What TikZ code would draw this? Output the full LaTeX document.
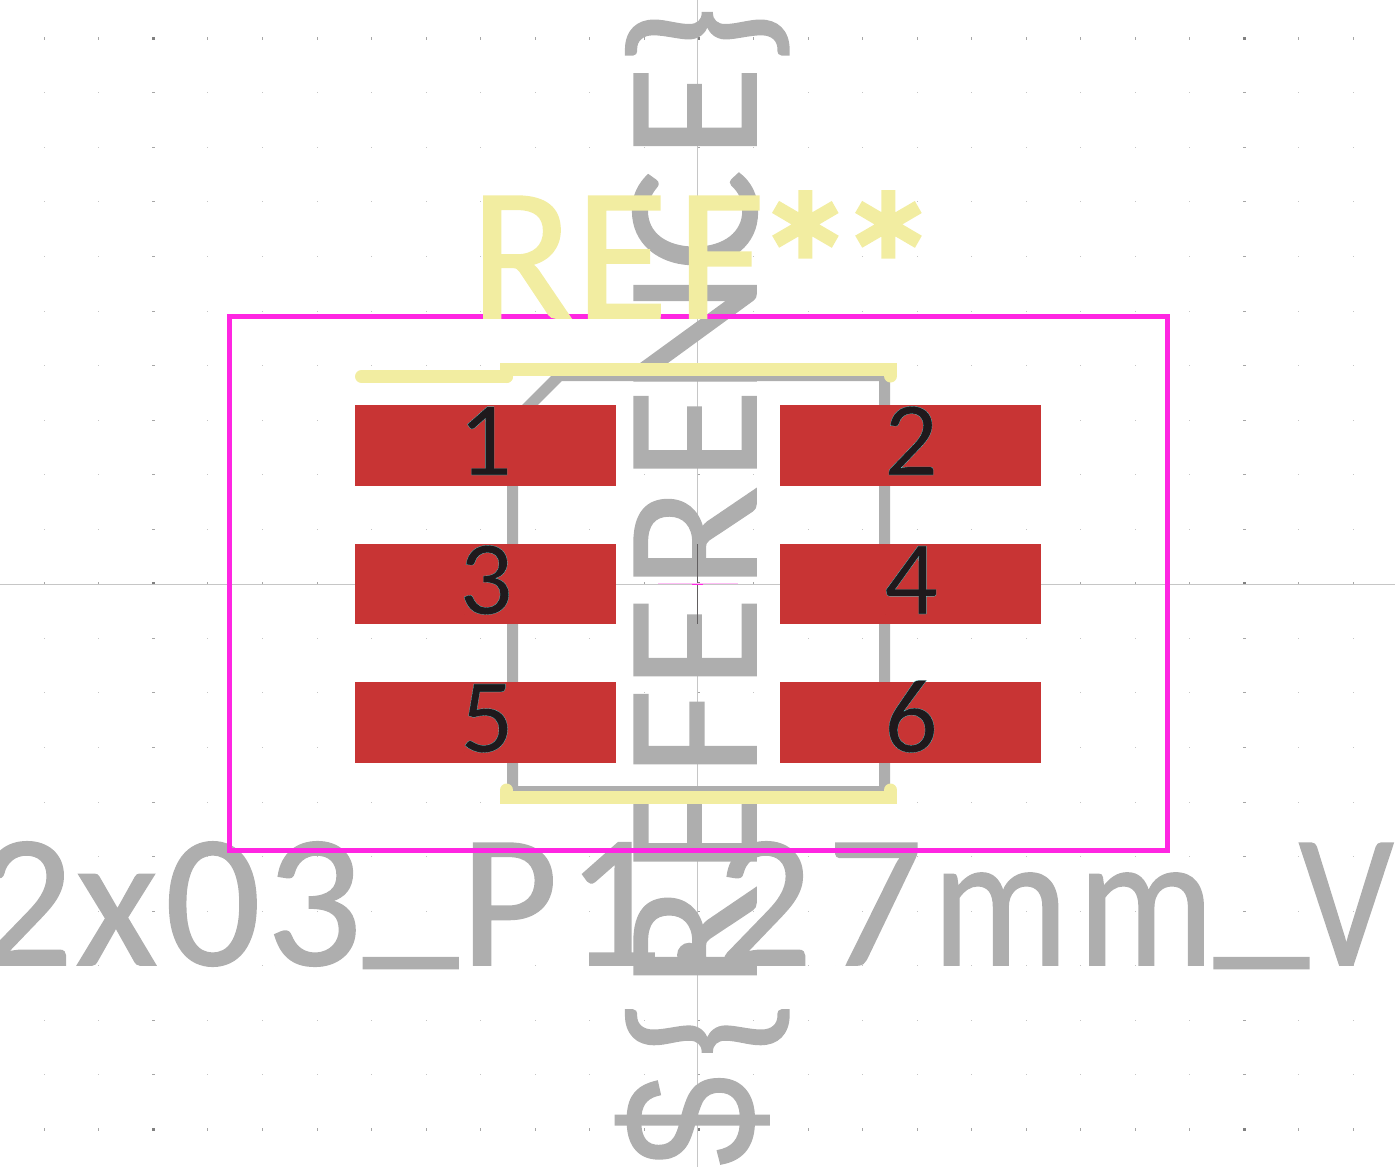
\documentclass[tikz,border=0pt]{standalone}
\usepackage{fontspec}
\setmainfont{Carlito}
\newfontfamily\strokefam[FakeBold=0.8]{Carlito}
\newfontfamily\starfam[FakeBold=2.5]{Carlito}
\newfontfamily\dollarfam[FakeBold=0.8]{Liberation Sans}
\newfontfamily\numfam[FakeBold=0.12]{Carlito}
\newcommand{\strokefont}{\strokefam\fontsize{190}{190}\selectfont}
\newcommand{\padnumfont}{\numfam\fontsize{106}{106}\selectfont}
% one star of the REF** label
\newcommand{\silkstar}{\raisebox{-23pt}{\scalebox{1.1}{\starfam\fontsize{190}{190}\selectfont *}}}
% pad number with its thin cyan edge
\newcommand{\edged}[1]{\special{pdf:bcolor [0.12 0.1 0.11] [0.32 1 1]}#1\special{pdf:ecolor}}
\definecolor{fabgrey}{HTML}{AEAEAE}
\definecolor{silkyellow}{HTML}{F2EDA1}
\definecolor{crtmagenta}{HTML}{FF26E2}
\definecolor{padred}{HTML}{C83434}
\definecolor{numblack}{HTML}{1F1A1C}
\definecolor{axisgrey}{HTML}{C6C6C6}
\tikzset{
  fabtext/.style={text=fabgrey,font=\strokefont,inner sep=0pt},
  silktext/.style={text=silkyellow,font=\strokefont,inner sep=0pt},
  padbox/.style={fill=padred,minimum width=261,minimum height=80.5,inner sep=0pt},
  padnum/.style={text=numblack,font=\padnumfont,inner sep=0pt,anchor=base},
  fabline/.style={draw=fabgrey,line width=11pt},
  silkline/.style={draw=silkyellow,line width=13pt,line cap=round},
}
\begin{document}
\begin{tikzpicture}[x=1pt,y=-1pt]
  \useasboundingbox (0,0) rectangle (1395,1167);

  % grid
  \foreach \col in {0,...,24}
    \foreach \row in {0,...,20}
      \fill [black!23] ({43.8+54.55*\col},{37.8+54.55*\row}) rectangle +(1,1);
  \foreach \col in {0,...,24}
    \foreach \row in {0,10,20}
      \fill [black!35] ({43.8+54.55*\col},{36.8+54.55*\row}) rectangle +(1,3);
  \foreach \col in {2,12,22}
    \foreach \row in {0,...,20}
      \fill [black!35] ({42.8+54.55*\col},{37.8+54.55*\row}) rectangle +(3,1);
  \foreach \col in {2,12,22}
    \foreach \row in {0,10,20}
      \fill [black!50] ({42.8+54.55*\col},{36.8+54.55*\row}) rectangle +(3,3);

  % axes
  \draw [axisgrey,line width=1pt] (0,584) -- (1395,584);
  \draw [axisgrey,line width=1pt] (697.5,0) -- (697.5,1167);

  % fab layer
  \draw [fabline] (559.5,375.5) -- (884.5,375.5) -- (884.5,791.5) -- (512.5,791.5) -- (512.5,422.5) -- cycle;
  \node [fabtext,anchor=base west] (value) at (-23,965)
    {2\kern2pt x\kern7pt 0\kern5pt 3\kern1pt\raisebox{22pt}{\_}\kern2pt P\kern8pt 1\kern3pt.\kern3pt 2\kern14pt 7\kern9pt\scalebox{.9}[1]{m}\kern9pt\scalebox{.9}[1]{m}\kern0pt\raisebox{22pt}{\_}\kern-10pt\scalebox{.88}[1]{V}};
  \node [fabtext,anchor=base west,rotate=90] (reference) at (756,1166)
    {\scalebox{.85}[1]{\dollarfam\$}\kern17pt\raisebox{-7pt}{\{}\kern11pt R\kern11pt E\kern5pt F\kern0pt E\kern7pt R\kern5pt E\kern-6pt N\kern1pt C\kern11pt E\kern0pt\raisebox{-7pt}{\}}};

  % anchor
  \draw [numblack!70,line width=1pt] (697.3,544) -- (697.3,624);
  \draw [crtmagenta!30,line width=1pt] (658,583.5) -- (738,583.5);
  \draw [crtmagenta,line width=1.5pt] (692,584.5) -- (703,584.5);

  % pads
  \node [padbox] (pad1) at (485.5,445.5) {};
  \node [padbox] (pad2) at (910.5,445.5) {};
  \node [padbox] (pad3) at (485.5,584) {};
  \node [padbox] (pad4) at (910.5,584) {};
  \node [padbox] (pad5) at (485.5,722.5) {};
  \node [padbox] (pad6) at (910.5,722.5) {};
  \node [padnum] (num1) at (485,475) {\edged{1}};
  \node [padnum] (num2) at (911,475) {\edged{2}};
  \node [padnum] (num3) at (486,614) {\edged{3}};
  \node [padnum] (num4) at (911,614) {\edged{4}};
  \node [padnum] (num5) at (487,752) {\edged{5}};
  \node [padnum] (num6) at (911,752) {\edged{6}};

  % courtyard
  \draw [crtmagenta,line width=5pt] (229.5,316.5) rectangle (1167,850.5);

  % silkscreen
  \draw [silkline] (361.5,376.5) -- (506.5,376.5);
  \draw [silkline] (506.5,376.5) -- (506.5,369.5) -- (890.5,369.5) -- (890.5,376);
  \draw [silkline] (506.5,790) -- (506.5,797) -- (890.5,797) -- (890.5,790);
  \node [silktext,anchor=base west] (ref) at (470,318)
    {R\kern2pt E\kern9pt F\kern-11pt\silkstar\kern-21pt\silkstar};
\end{tikzpicture}
\end{document}
